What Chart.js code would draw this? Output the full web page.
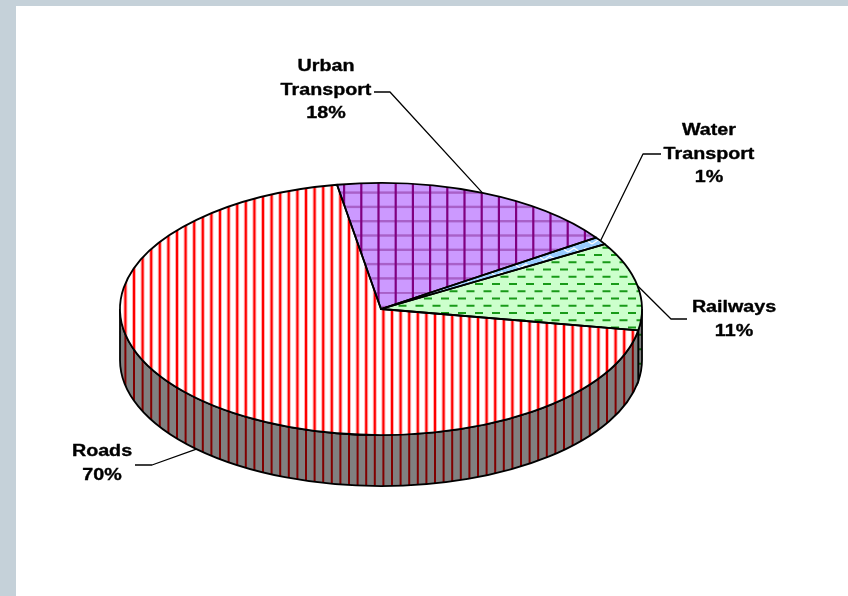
<!DOCTYPE html>
<html>
<head>
<meta charset="utf-8">
<style>
html,body{margin:0;padding:0;width:848px;height:596px;overflow:hidden;background:#C5D1D9}
#wrap{position:absolute;left:16px;top:6px;width:832px;height:590px;background:#fff}
canvas{display:block}
</style>
<script src="https://cdn.jsdelivr.net/npm/chart.js@4"></script>
</head>
<body>
<div id="wrap"><canvas id="c" width="832" height="590"></canvas></div>
<script>
const categories = ["Urban Transport", "Water Transport", "Railways", "Roads"];
const shares = [18.1, 1.0, 11.3, 69.6];
const firstSliceAngle = -9.7;

const squash = 0.483;
const depth = 51;
const labelCentres = [[310, 61], [693, 125], [718, 302], [86, 446]];
const leaderElbows = [[[374, 86], [358, 86]], [[627, 148], [645, 148]], [[655, 313], [671, 313]], [[136, 459], [119, 459]]];
const leaderWallDrop = [0, 0, 0, 1];

function tile(w, h, paint) {
  const t = document.createElement('canvas');
  t.width = w; t.height = h;
  paint(t.getContext('2d'));
  return document.getElementById('c').getContext('2d').createPattern(t, 'repeat');
}
function stripes(bg, halo, col) {
  return tile(43, 4, g => {
    g.fillStyle = bg; g.fillRect(0, 0, 43, 4);
    for (let i = 0; i < 5; i++) {
      g.fillStyle = halo; g.fillRect(6.2 + i * 8.6 - 2, 0, 4, 4);
      g.fillStyle = col; g.fillRect(6.2 + i * 8.6 - 1, 0, 2, 4);
    }
  });
}
function dashes(bg, col) {
  return tile(17, 29, g => {
    g.fillStyle = bg; g.fillRect(0, 0, 17, 29);
    g.fillStyle = col;
    for (let r = 0; r < 4; r++) {
      const y = 2.5 + r * 7.25 - 1, x = (r % 2) ? 8.5 : 0;
      g.fillRect(x, y, 8, 2);
      g.fillRect(x - 17, y, 8, 2);
    }
  });
}
const urbanFill = tile(86, 143, g => {
  g.fillStyle = '#CC99FF'; g.fillRect(0, 0, 86, 143);
  for (let j = 0; j < 10; j++) {
    g.fillStyle = '#A860C8'; g.fillRect(0, 0.7 + j * 14.3 - 1.2, 86, 2.4);
  }
  g.fillStyle = '#800080';
  for (let i = 0; i < 5; i++) g.fillRect(1.3 + i * 17.2 - 1.1, 0, 2.2, 143);
});
const waterFill = tile(12, 8, g => {
  g.fillStyle = '#99CCFF'; g.fillRect(0, 0, 12, 8);
  g.strokeStyle = '#fff'; g.lineWidth = 1.4;
  g.beginPath(); g.moveTo(0, 6); g.lineTo(6, 2); g.lineTo(12, 6); g.stroke();
});
const roadsFill = stripes('#FFFFFF', '#FFB0B0', '#FF0000');
const railFill = dashes('#CCFFCC', '#189A18');
const topFills = [urbanFill, waterFill, railFill, roadsFill];
const wallFills = [null, null, dashes('#808080', '#0C5A0C'), stripes('#808080', '#808080', '#800000')];

function arcPath(ctx, a, k) {
  ctx.beginPath();
  ctx.moveTo(a.x, a.y);
  ctx.ellipse(a.x, a.y, a.outerRadius, a.outerRadius * k, 0, a.startAngle, a.endAngle);
  ctx.closePath();
}

const pie3d = {
  id: 'pie3d',
  beforeDatasetsDraw(chart) {
    const ctx = chart.ctx, arcs = chart.getDatasetMeta(0).data;
    const a0 = arcs[0], r = a0.outerRadius, ry = r * squash;
    arcs.forEach((a, i) => {
      for (let n = -1; n <= 1; n++) {
        const lo = Math.max(a.startAngle, n * 2 * Math.PI);
        const hi = Math.min(a.endAngle, n * 2 * Math.PI + Math.PI);
        if (hi <= lo || !wallFills[i]) continue;
        ctx.beginPath();
        ctx.ellipse(a.x, a.y, r, ry, 0, lo, hi);
        ctx.ellipse(a.x, a.y + depth, r, ry, 0, hi, lo, true);
        ctx.closePath();
        ctx.fillStyle = wallFills[i];
        ctx.fill();
        ctx.strokeStyle = '#000';
        ctx.lineWidth = 1.8;
        ctx.stroke();
      }
    });
    topFills.forEach(p => p.setTransform(new DOMMatrix([1, 0, 0, 1 / squash, 0, a0.y - a0.y / squash])));
    ctx.save();
    ctx.translate(a0.x, a0.y);
    ctx.scale(1, squash);
    ctx.translate(-a0.x, -a0.y);
  },
  afterDatasetsDraw(chart) {
    const ctx = chart.ctx, arcs = chart.getDatasetMeta(0).data;
    ctx.restore();
    ctx.strokeStyle = '#000';
    ctx.lineWidth = 1.8;
    ctx.lineJoin = 'round';
    arcs.forEach(a => { arcPath(ctx, a, squash); ctx.stroke(); });

    ctx.lineWidth = 1.3;
    arcs.forEach((a, i) => {
      const mid = (a.startAngle + a.endAngle) / 2;
      const ax = a.x + a.outerRadius * Math.cos(mid);
      const ay = a.y + a.outerRadius * squash * Math.sin(mid) + leaderWallDrop[i] * depth;
      ctx.beginPath();
      ctx.moveTo(ax, ay);
      leaderElbows[i].forEach(p => ctx.lineTo(p[0], p[1]));
      ctx.stroke();
    });

    ctx.fillStyle = '#000';
    ctx.font = 'bold 16px "Liberation Sans", Arial, sans-serif';
    ctx.textAlign = 'center';
    ctx.textBaseline = 'middle';
    ctx.lineWidth = 0.35;
    categories.forEach((name, i) => {
      const lines = name.split(' ').concat(Math.round(shares[i]) + '%');
      lines.forEach((t, j) => {
        ctx.save();
        ctx.translate(labelCentres[i][0], labelCentres[i][1] + j * 23.5);
        ctx.scale(1.23, 1);
        ctx.fillText(t, 0, 0);
        ctx.strokeText(t, 0, 0);
        ctx.restore();
      });
    });
  }
};

new Chart(document.getElementById('c'), {
  type: 'pie',
  data: {
    labels: categories,
    datasets: [{ data: shares, backgroundColor: topFills, borderWidth: 0, rotation: firstSliceAngle }]
  },
  options: {
    responsive: false,
    animation: false,
    layout: { padding: { left: 0, right: 102, top: 42, bottom: 26 } },
    plugins: { legend: { display: false }, tooltip: { enabled: false } }
  },
  plugins: [pie3d]
});
</script>
</body>
</html>
